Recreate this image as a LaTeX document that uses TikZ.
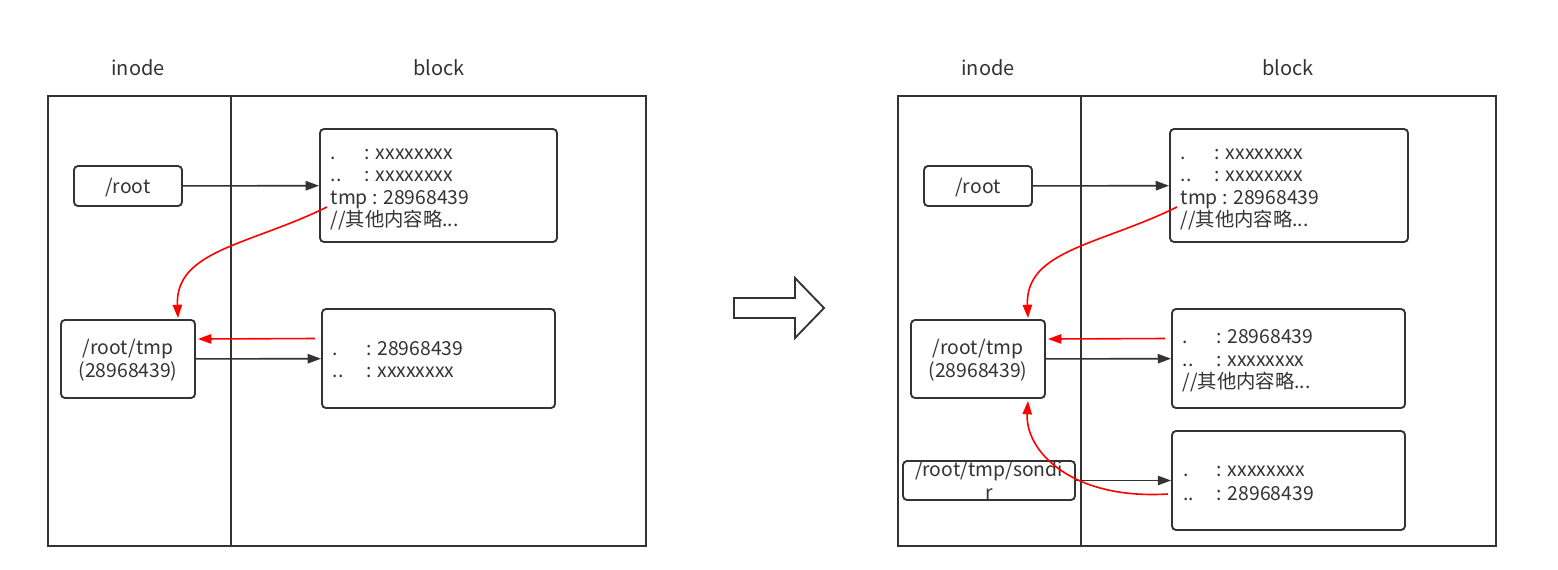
\documentclass[tikz,border=0pt]{standalone}
\usepackage{fontspec}
\setmainfont{Noto Sans CJK SC}
\usetikzlibrary{arrows.meta}
\definecolor{lc}{HTML}{333333}
\definecolor{rc}{HTML}{FF0000}
\begin{document}
\begin{tikzpicture}[x=0.75pt,y=-0.75pt,
  frame/.style={draw=lc, line width=1.4pt},
  box/.style={draw=lc, line width=1.4pt, rounded corners=3pt, inner sep=0pt},
  txt/.style={font=\fontsize{14.5}{16}\selectfont, text=lc, inner sep=0pt},
  lbl/.style={font=\fontsize{15}{17}\selectfont, text=lc, inner sep=0pt, anchor=base},
  lw/.style={txt, anchor=base west},
  lm/.style={txt, anchor=base},
  conn/.style={draw=lc, line width=1.2pt, -{Triangle[length=10pt,width=7pt]}},
  rconn/.style={draw=rc, line width=1.2pt, -{Triangle[length=10pt,width=7pt]}}
]
\useasboundingbox (0,0) rectangle (1558,569);

% ---------------- left panel ----------------
\node[lbl] (inodeL) at (138,75) {inode};
\node[lbl] (blockL) at (439,75) {block};
\draw[frame] (48,96) rectangle (646,546);
\draw[frame] (231,96) -- (231,546);

\node[box, minimum width=81pt, minimum height=30pt] (rootL) at (128,186) {};
\node[lm] (rootLt) at (128,193) {/root};

\node[box, minimum width=177.75pt, minimum height=84.75pt] (blk1L) at (438.5,185.5) {};
\node[lw] (b1L1a) at (330.5,159) {.};
\node[lw] (b1L1b) at (364.5,159) {: xxxxxxxx};
\node[lw] (b1L2a) at (330.5,181.5) {..};
\node[lw] (b1L2b) at (364.5,181.5) {: xxxxxxxx};
\node[lw] (b1L3) at (330.5,204) {tmp : 28968439};
\node[lw] (b1L4) at (330.5,226.5) {//其他内容略...};

\node[box, minimum width=100.5pt, minimum height=58.5pt] (tmpL) at (128,359) {};
\node[lm] (tmpLt1) at (128,354) {/root/tmp};
\node[lm] (tmpLt2) at (128,377) {(28968439)};

\node[box, minimum width=174.75pt, minimum height=74.25pt] (blk2L) at (438.5,358.5) {};
\node[lw] (b2L1a) at (332.5,355) {.};
\node[lw] (b2L1b) at (366,355) {: 28968439};
\node[lw] (b2L2a) at (332.5,377.5) {..};
\node[lw] (b2L2b) at (366,377.5) {: xxxxxxxx};

\draw[conn] (rootL) -- (blk1L);
\draw[conn] (tmpL) -- (blk2L);
\draw[rconn] ([xshift=-4.5pt,yshift=15pt]blk2L.west) -- ([xshift=1.5pt,yshift=15pt]tmpL.east);
\coordinate (c1L) at (327,207);
\draw[rconn] (c1L) .. controls (250,245) and (175,250) .. ([xshift=37.5pt,yshift=0.75pt]tmpL.north);

% ---------------- middle arrow ----------------
\draw[frame, line join=miter] (734,298) -- (795,298) -- (795,278) -- (824,308) -- (795,338) -- (795,318) -- (734,318) -- cycle;

% ---------------- right panel ----------------
\node[lbl] (inodeR) at (988,75) {inode};
\node[lbl] (blockR) at (1288,75) {block};
\draw[frame] (898,96) rectangle (1496,546);
\draw[frame] (1081,96) -- (1081,546);

\node[box, minimum width=81pt, minimum height=30pt] (rootR) at (978,186) {};
\node[lm] (rootRt) at (978,193) {/root};

\node[box, minimum width=178.5pt, minimum height=84.75pt] (blk1R) at (1289,185.5) {};
\node[lw] (b1R1a) at (1180.5,159) {.};
\node[lw] (b1R1b) at (1214.5,159) {: xxxxxxxx};
\node[lw] (b1R2a) at (1180.5,181.5) {..};
\node[lw] (b1R2b) at (1214.5,181.5) {: xxxxxxxx};
\node[lw] (b1R3) at (1180.5,204) {tmp : 28968439};
\node[lw] (b1R4) at (1180.5,226.5) {//其他内容略...};

\node[box, minimum width=100.5pt, minimum height=58.5pt] (tmpR) at (978,359) {};
\node[lm] (tmpRt1) at (978,354) {/root/tmp};
\node[lm] (tmpRt2) at (978,377) {(28968439)};

\node[box, minimum width=174.75pt, minimum height=74.25pt] (blk2R) at (1288.5,358.5) {};
\node[lw] (b2R1a) at (1182.5,343) {.};
\node[lw] (b2R1b) at (1216,343) {: 28968439};
\node[lw] (b2R2a) at (1182.5,366) {..};
\node[lw] (b2R2b) at (1216,366) {: xxxxxxxx};
\node[lw] (b2R3) at (1182.5,388.5) {//其他内容略...};

\node[box, minimum width=129pt, minimum height=29.25pt] (sonR) at (989,480.5) {};
\node[lm] (sonRt1) at (989,476) {/root/tmp/sondi};
\node[lm] (sonRt2) at (989,499) {r};

\node[box, minimum width=174.75pt, minimum height=74.25pt] (blk3R) at (1288.5,480.5) {};
\node[lw] (b3R1a) at (1183,476.5) {.};
\node[lw] (b3R1b) at (1216.5,476.5) {: xxxxxxxx};
\node[lw] (b3R2a) at (1183,500.5) {..};
\node[lw] (b3R2b) at (1216.5,500.5) {: 28968439};

\draw[conn] (rootR) -- (blk1R);
\draw[conn] (tmpR) -- (blk2R);
\draw[conn] (sonR) -- (blk3R);
\draw[rconn] ([xshift=-4.5pt,yshift=15pt]blk2R.west) -- ([xshift=1.5pt,yshift=15pt]tmpR.east);
\coordinate (c1R) at (1177,207);
\draw[rconn] (c1R) .. controls (1100,245) and (1025,250) .. ([xshift=37.5pt,yshift=0.75pt]tmpR.north);
\coordinate (c2R) at (1168,494);
\draw[rconn] (c2R) .. controls (1070,500) and (1025,450) .. ([xshift=37.5pt,yshift=-1.5pt]tmpR.south);
\end{tikzpicture}
\end{document}
